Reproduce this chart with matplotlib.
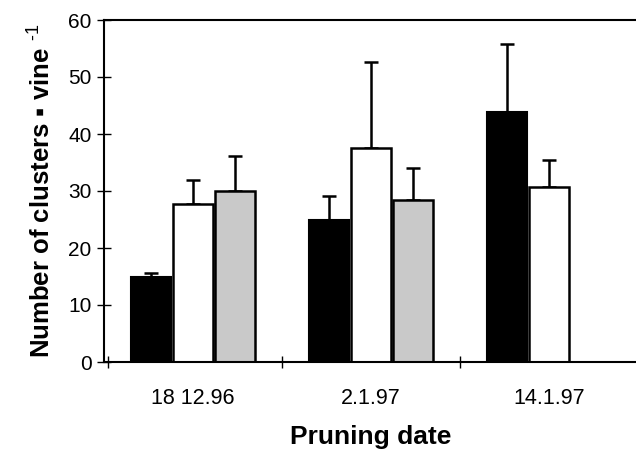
import matplotlib
matplotlib.use("Agg")
import matplotlib.pyplot as plt
import numpy as np

categories = ["18 12.96", "2.1.97", "14.1.97"]
black_vals = [14.9, 24.9, 43.8]
black_err = [0.7, 4.3, 12.0]
white_vals = [27.7, 37.5, 30.7]
white_err = [4.2, 15.1, 4.7]
gray_vals = [30.0, 28.4]
gray_err = [6.1, 5.6]
yticks = [0, 10, 20, 30, 40, 50, 60]

plt.rcParams['font.family'] = ['Liberation Sans', 'DejaVu Sans']
plt.rcParams['mathtext.fontset'] = 'custom'
plt.rcParams['mathtext.rm'] = 'Liberation Sans'
plt.rcParams['mathtext.bf'] = 'Liberation Sans:bold'
plt.rcParams['mathtext.default'] = 'bf'

fig = plt.figure(figsize=(6.36, 4.54), dpi=100)
ax = fig.add_axes([104/636, 1 - 362/454, 534/636, 342/454])

x = np.arange(len(categories))
w = 0.225
off = 0.235
ekw = dict(elinewidth=1.8, capthick=1.8, ecolor='black')
ax.bar(x - off, black_vals, w, color='black', edgecolor='black', linewidth=1.5, zorder=2)
ax.errorbar(x - off, black_vals, yerr=[np.zeros(3), black_err], fmt='none', capsize=5, zorder=1, **ekw)
ax.bar(x, white_vals, w, color='white', edgecolor='black', linewidth=1.8, zorder=2)
ax.errorbar(x, white_vals, yerr=[np.zeros(3), white_err], fmt='none', capsize=5, zorder=1, **ekw)
xg = x[:2] + off
ax.bar(xg, gray_vals, w, color='#c9c9c9', edgecolor='black', linewidth=1.8, zorder=2)
ax.errorbar(xg, gray_vals, yerr=[np.zeros(2), gray_err], fmt='none', capsize=5, zorder=1, **ekw)

ax.set_xlim(-0.5, 2.5)
ax.set_ylim(0, 60)
ax.set_yticks(yticks)
ax.set_yticklabels([str(t) for t in yticks], fontsize=15)
ax.set_xticks(x)
ax.set_xticklabels(categories, fontsize=15.5)
ax.tick_params(axis='x', length=0, pad=19)
ax.set_xticks([-0.48, 0.5, 1.5], minor=True)
ax.tick_params(axis='x', which='minor', direction='inout', length=9, width=1)
ax.tick_params(axis='y', direction='inout', length=10, width=1, pad=4)

for s in ['top', 'left', 'bottom']:
    ax.spines[s].set_linewidth(1.5)
ax.spines['right'].set_visible(False)

ax.set_ylabel("Number of clusters \u25aa vine $^{\\text{-1}}$", fontsize=18.5, fontweight='bold', labelpad=9)
ax.set_xlabel("Pruning date", fontsize=19, fontweight='bold', labelpad=11)

fig.savefig("out.png", dpi=100)
